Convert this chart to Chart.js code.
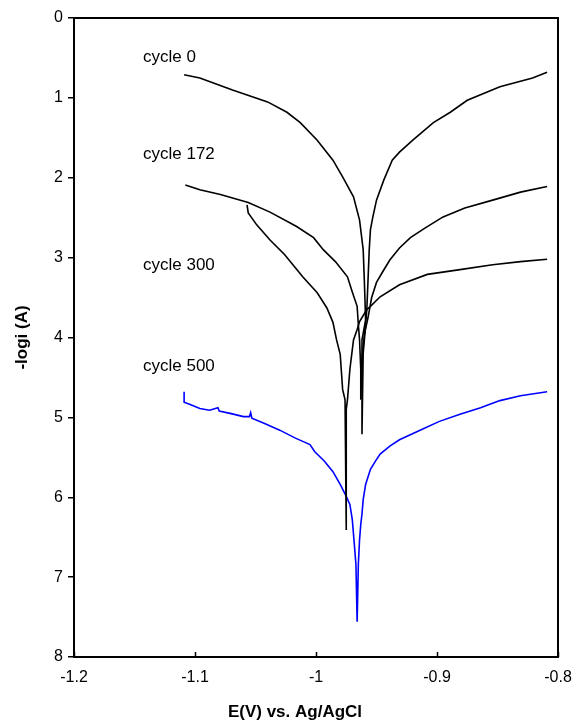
<!DOCTYPE html>
<html>
<head>
<meta charset="utf-8">
<script src="https://cdn.jsdelivr.net/npm/chart.js@4.4.1/dist/chart.umd.min.js"></script>
<style>
html,body{margin:0;padding:0;background:#fff;}
canvas{display:block;}
</style>
</head>
<body>
<canvas id="c" width="576" height="722"></canvas>
<script>
// ---- data (E in V vs Ag/AgCl, -log i) ----
const cycle0E = [-1.109,-1.096,-1.069,-1.040,-1.024,-1.013,-0.999,-0.986,-0.978,-0.969,-0.964,-0.961,-0.960,-0.959,-0.962,-0.962,-0.961,-0.959,-0.958,-0.957,-0.956,-0.955,-0.953,-0.950,-0.944,-0.937,-0.931,-0.920,-0.903,-0.889,-0.875,-0.848,-0.821,-0.809];
const cycle0Y = [0.71,0.75,0.90,1.05,1.18,1.31,1.53,1.78,1.99,2.24,2.53,2.90,3.31,3.78,4.03,5.21,4.20,3.85,3.65,3.28,2.90,2.65,2.49,2.28,2.03,1.78,1.68,1.53,1.31,1.18,1.03,0.86,0.75,0.68];

const cycle172E = [-1.108,-1.096,-1.079,-1.056,-1.038,-1.016,-1.002,-0.994,-0.984,-0.974,-0.970,-0.966,-0.965,-0.964,-0.963,-0.963,-0.962,-0.960,-0.957,-0.954,-0.950,-0.945,-0.939,-0.931,-0.922,-0.910,-0.895,-0.877,-0.854,-0.831,-0.809];
const cycle172Y = [2.09,2.15,2.21,2.31,2.43,2.61,2.75,2.90,3.05,3.24,3.43,3.61,3.84,4.03,4.40,4.78,4.28,3.96,3.75,3.50,3.31,3.18,3.03,2.88,2.75,2.63,2.49,2.38,2.28,2.18,2.11];

const cycle300E = [-1.057,-1.056,-1.049,-1.038,-1.026,-1.011,-0.999,-0.991,-0.986,-0.983,-0.980,-0.978,-0.976,-0.975,-0.975,-0.974,-0.972,-0.969,-0.966,-0.964,-0.958,-0.955,-0.947,-0.931,-0.908,-0.881,-0.854,-0.831,-0.809];
const cycle300Y = [2.34,2.44,2.59,2.78,2.96,3.24,3.44,3.63,3.81,4.03,4.21,4.65,4.78,6.41,4.90,4.78,4.40,4.03,3.90,3.80,3.65,3.61,3.49,3.34,3.21,3.15,3.09,3.05,3.02];

const cycle500E = [-1.109,-1.109,-1.104,-1.096,-1.088,-1.081,-1.080,-1.071,-1.060,-1.055,-1.054,-1.053,-1.042,-1.030,-1.017,-1.005,-1.001,-0.993,-0.986,-0.980,-0.975,-0.972,-0.970,-0.968,-0.967,-0.966,-0.965,-0.964,-0.963,-0.962,-0.961,-0.959,-0.955,-0.951,-0.947,-0.939,-0.931,-0.914,-0.898,-0.881,-0.864,-0.848,-0.831,-0.809];
const cycle500Y = [4.68,4.81,4.84,4.89,4.91,4.88,4.92,4.95,4.99,4.99,4.94,5.01,5.08,5.16,5.26,5.34,5.43,5.55,5.68,5.84,5.99,6.09,6.28,6.65,6.84,7.56,6.84,6.53,6.34,6.21,6.03,5.84,5.65,5.55,5.46,5.36,5.28,5.16,5.05,4.96,4.88,4.79,4.73,4.68];

const seriesLabels = ["cycle 0","cycle 172","cycle 300","cycle 500"];
const labelX = [-1.143,-1.143,-1.143,-1.143];
const labelY = [0.49,1.71,3.10,4.36];

const xTickValues = [-1.2,-1.1,-1,-0.9,-0.8];
const xTickLabels = ["-1.2","-1.1","-1","-0.9","-0.8"];
const yTickValues = [0,1,2,3,4,5,6,7,8];
const yTickLabels = ["0","1","2","3","4","5","6","7","8"];

const xTitle = "E(V) vs. Ag/AgCl";
const yTitle = "-logi (A)";

function pts(xs, ys){ return xs.map((x,i)=>({x:x, y:ys[i]})); }

const FONT = "'Liberation Sans', Arial, sans-serif";

const decor = {
  id: 'decor',
  afterDraw(chart){
    const {ctx, chartArea:a, scales:{x, y}} = chart;
    ctx.save();
    // box
    ctx.strokeStyle = '#000';
    ctx.lineWidth = 2;
    ctx.strokeRect(a.left, a.top, a.right - a.left, a.bottom - a.top);
    // inward x ticks
    ctx.lineWidth = 1.5;
    xTickValues.forEach(v=>{
      const px = Math.round(x.getPixelForValue(v)) + 0.5;
      ctx.beginPath();
      ctx.moveTo(px, a.bottom);
      ctx.lineTo(px, a.bottom - 5);
      ctx.stroke();
    });
    // series labels
    ctx.fillStyle = '#000';
    ctx.font = "17px " + FONT;
    ctx.textAlign = 'left';
    ctx.textBaseline = 'middle';
    seriesLabels.forEach((t,i)=>{
      ctx.fillText(t, x.getPixelForValue(labelX[i]), y.getPixelForValue(labelY[i]));
    });
    // axis titles
    ctx.font = "bold 17px " + FONT;
    ctx.textAlign = 'center';
    ctx.fillText(xTitle, 295, 712);
    ctx.translate(22, (a.top + a.bottom)/2);
    ctx.rotate(-Math.PI/2);
    ctx.fillText(yTitle, 0, 0);
    ctx.restore();
  }
};

const lineStyle = (color) => ({
  showLine: true, borderColor: color, backgroundColor: color,
  borderWidth: 1.6, pointRadius: 0, tension: 0, fill: false
});

new Chart(document.getElementById('c'), {
  type: 'scatter',
  data: {
    datasets: [
      Object.assign({label: seriesLabels[0], data: pts(cycle0E, cycle0Y)}, lineStyle('#000000')),
      Object.assign({label: seriesLabels[1], data: pts(cycle172E, cycle172Y)}, lineStyle('#000000')),
      Object.assign({label: seriesLabels[2], data: pts(cycle300E, cycle300Y)}, lineStyle('#000000')),
      Object.assign({label: seriesLabels[3], data: pts(cycle500E, cycle500Y)}, lineStyle('#0000ff'))
    ]
  },
  options: {
    responsive: false,
    devicePixelRatio: 1,
    animation: false,
    layout: { padding: { top: 18, right: 18, left: 0, bottom: 0 } },
    plugins: { legend: { display: false }, tooltip: { enabled: false } },
    scales: {
      x: {
        type: 'linear', min: -1.2, max: -0.8,
        afterBuildTicks: (s) => { s.ticks = xTickValues.map(v => ({value: v})); },
        afterFit: (s) => { s.height = 65; s.paddingRight = 0; s.paddingLeft = 0; },
        ticks: { callback: (v) => xTickLabels[xTickValues.findIndex(t => Math.abs(t - v) < 1e-9)], color: '#000', padding: 11, font: { size: 16, family: FONT } },
        grid: { display: false, drawTicks: false },
        border: { display: false }
      },
      y: {
        type: 'linear', min: 0, max: 8, reverse: true,
        afterBuildTicks: (s) => { s.ticks = yTickValues.map(v => ({value: v})); },
        afterFit: (s) => { s.width = 74; s.paddingTop = 0; s.paddingBottom = 0; },
        ticks: { callback: (v) => yTickLabels[yTickValues.indexOf(v)], color: '#000', padding: 5, font: { size: 16, family: FONT } },
        grid: { display: true, drawOnChartArea: false, drawTicks: true, tickLength: 6, color: '#000', lineWidth: 1.5 },
        border: { display: false }
      }
    }
  },
  plugins: [decor]
});
</script>
</body>
</html>
